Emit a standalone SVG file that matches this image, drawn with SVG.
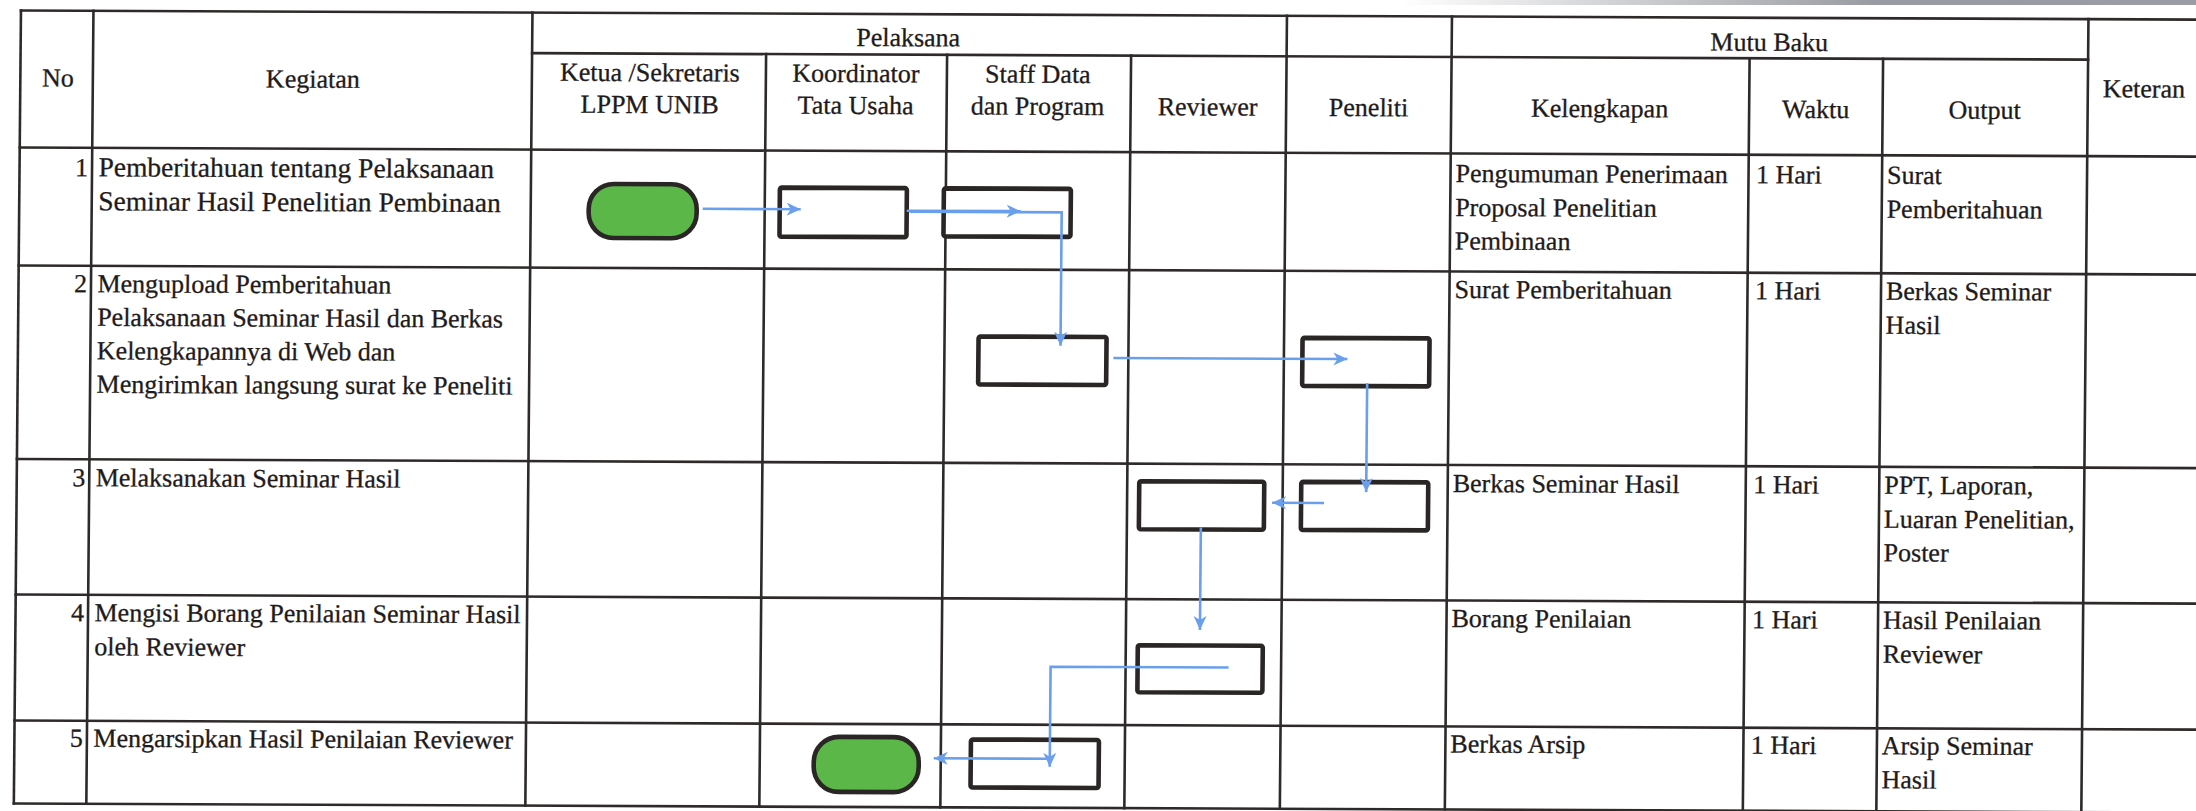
<svg xmlns="http://www.w3.org/2000/svg" width="2196" height="811" viewBox="0 0 2196 811">
  <style>
    .bg { fill: #ffffff; }
    .grid line { stroke: #2e2a2a; stroke-width: 2.6; stroke-linecap: square; }
    .t { font-family: "Liberation Serif", "Times New Roman", serif; font-size: 26px; fill: #1f1b1b; stroke: #1f1b1b; stroke-width: 0.3; }
    .big { font-size: 27.5px; }
    .c { text-anchor: middle; }
    .r { text-anchor: end; }
    .proc { fill: #ffffff; stroke: #2b2626; stroke-width: 4.6; }
    .term { fill: #5bb848; stroke: #2b2626; stroke-width: 4.6; }
    .flow { fill: none; stroke: #6a9fec; stroke-width: 2.6; stroke-linejoin: miter; }
    .flow.head { marker-end: url(#arrow); }
  </style>
  <defs>
    <marker id="arrow" markerUnits="userSpaceOnUse" markerWidth="16" markerHeight="16" refX="14" refY="7" orient="auto">
      <path d="M0,0.5 L14,7 L0,13.5 L4,7 Z" fill="#6a9fec"/>
    </marker>
    <linearGradient id="edgeShade" x1="0" y1="0" x2="1" y2="0">
      <stop offset="0" stop-color="#8d9097" stop-opacity="0"/>
      <stop offset="0.6" stop-color="#8d9097" stop-opacity="0.9"/>
      <stop offset="1" stop-color="#9a9da3" stop-opacity="1"/>
    </linearGradient>
  </defs>

  <rect class="bg" x="0" y="0" width="2196" height="811"/>
  <!-- page edge shading along the top right -->
  <rect x="1400" y="0" width="796" height="5" fill="url(#edgeShade)"/>

  <!-- the sheet is slightly skewed as printed -->
  <g id="sheet" transform="matrix(1 0.0042 -0.009 1 3.6 -4.62)">

    <g id="grid" class="grid">
      <!-- horizontal rules -->
      <line x1="17.5" y1="15" x2="2240" y2="15"/>
      <line x1="529" y1="55.5" x2="2085" y2="55.5"/>
      <line x1="17.5" y1="152" x2="2240" y2="152"/>
      <line x1="17.5" y1="270" x2="2240" y2="270"/>
      <line x1="17.5" y1="463.5" x2="2240" y2="463.5"/>
      <line x1="17.5" y1="599" x2="2240" y2="599"/>
      <line x1="17.5" y1="725" x2="2240" y2="725"/>
      <line x1="17.5" y1="808" x2="2240" y2="808"/>
      <!-- vertical rules -->
      <line x1="17.5" y1="15" x2="17.5" y2="808"/>
      <line x1="90" y1="15" x2="90" y2="808"/>
      <line x1="529" y1="15" x2="529" y2="808"/>
      <line x1="763" y1="55.5" x2="763" y2="808"/>
      <line x1="944" y1="55.5" x2="944" y2="808"/>
      <line x1="1128" y1="55.5" x2="1128" y2="808"/>
      <line x1="1283.5" y1="15" x2="1283.5" y2="808"/>
      <line x1="1448.5" y1="15" x2="1448.5" y2="808"/>
      <line x1="1746.5" y1="55.5" x2="1746.5" y2="808"/>
      <line x1="1880" y1="55.5" x2="1880" y2="808"/>
      <line x1="2085" y1="15" x2="2085" y2="808"/>
    </g>

    <g id="header" class="t">
      <text class="c" x="55" y="91">No</text>
      <text class="c" x="310" y="91">Kegiatan</text>
      <text class="c" x="905" y="47">Pelaksana</text>
      <text class="c" x="647" y="83">Ketua /Sekretaris</text>
      <text class="c" x="647" y="115">LPPM UNIB</text>
      <text class="c" x="853" y="83">Koordinator</text>
      <text class="c" x="853" y="115">Tata Usaha</text>
      <text class="c" x="1035" y="83">Staff Data</text>
      <text class="c" x="1035" y="115">dan Program</text>
      <text class="c" x="1205" y="115">Reviewer</text>
      <text class="c" x="1366" y="115">Peneliti</text>
      <text class="c" x="1766" y="48">Mutu Baku</text>
      <text class="c" x="1597" y="115">Kelengkapan</text>
      <text class="c" x="1813" y="115">Waktu</text>
      <text class="c" x="1982" y="115">Output</text>
      <text x="2100" y="93">Keteran</text>
    </g>

    <g id="row-1" class="t">
      <text class="r" x="86" y="180.5">1</text>
      <text class="big" x="96.5" y="180.5">Pemberitahuan tentang Pelaksanaan</text>
      <text class="big" x="96.5" y="214.5">Seminar Hasil Penelitian Pembinaan</text>
      <text x="1453.5" y="180.5">Pengumuman Penerimaan</text>
      <text x="1453.5" y="214.5">Proposal Penelitian</text>
      <text x="1453.5" y="248">Pembinaan</text>
      <text x="1754" y="180.5">1 Hari</text>
      <text x="1885" y="180.5">Surat</text>
      <text x="1885" y="214.5">Pemberitahuan</text>
    </g>

    <g id="row-2" class="t">
      <text class="r" x="86" y="296.5">2</text>
      <text x="96.5" y="296.5">Mengupload Pemberitahuan</text>
      <text x="96.5" y="330">Pelaksanaan Seminar Hasil dan Berkas</text>
      <text x="96.5" y="363.5">Kelengkapannya di Web dan</text>
      <text x="96.5" y="397">Mengirimkan langsung surat ke Peneliti</text>
      <text x="1453.5" y="296.5">Surat Pemberitahuan</text>
      <text x="1754" y="296.5">1 Hari</text>
      <text x="1885" y="296.5">Berkas Seminar</text>
      <text x="1885" y="330.5">Hasil</text>
    </g>

    <g id="row-3" class="t">
      <text class="r" x="86" y="490.5">3</text>
      <text x="96.5" y="490.5">Melaksanakan Seminar Hasil</text>
      <text x="1453.5" y="490.5">Berkas Seminar Hasil</text>
      <text x="1754" y="490.5">1 Hari</text>
      <text x="1885" y="490.5">PPT, Laporan,</text>
      <text x="1885" y="524.5">Luaran Penelitian,</text>
      <text x="1885" y="558">Poster</text>
    </g>

    <g id="row-4" class="t">
      <text class="r" x="86" y="625.5">4</text>
      <text x="96.5" y="625.5">Mengisi Borang Penilaian Seminar Hasil</text>
      <text x="96.5" y="659.5">oleh Reviewer</text>
      <text x="1453.5" y="625.5">Borang Penilaian</text>
      <text x="1754" y="625.5">1 Hari</text>
      <text x="1885" y="625.5">Hasil Penilaian</text>
      <text x="1885" y="659.5">Reviewer</text>
    </g>

    <g id="row-5" class="t">
      <text class="r" x="86" y="751">5</text>
      <text x="96.5" y="751">Mengarsipkan Hasil Penilaian Reviewer</text>
      <text x="1453.5" y="751">Berkas Arsip</text>
      <text x="1754" y="751">1 Hari</text>
      <text x="1885" y="751">Arsip Seminar</text>
      <text x="1885" y="785">Hasil</text>
    </g>

    <!-- flow symbols -->
    <g id="start"><rect class="term" x="587" y="186" width="108" height="54" rx="25" ry="25"/></g>
    <g id="koordinator-1"><rect class="proc" x="778" y="189" width="127" height="49" rx="2"/></g>
    <g id="staff-1"><rect class="proc" x="942" y="189" width="127" height="48" rx="2"/></g>
    <g id="staff-2"><rect class="proc" x="978" y="337" width="128" height="48" rx="2"/></g>
    <g id="peneliti-2"><rect class="proc" x="1302" y="337" width="127" height="48" rx="2"/></g>
    <g id="peneliti-3"><rect class="proc" x="1302" y="481" width="127" height="48" rx="2"/></g>
    <g id="reviewer-3"><rect class="proc" x="1140" y="481" width="125" height="48" rx="2"/></g>
    <g id="reviewer-4"><rect class="proc" x="1140" y="645" width="125" height="47" rx="2"/></g>
    <g id="staff-5"><rect class="proc" x="974" y="740" width="128" height="48" rx="2"/></g>
    <g id="end"><rect class="term" x="817" y="738" width="105" height="55" rx="25" ry="25"/></g>

    <g id="connectors">
      <path class="flow head" d="M701,210.5 H799"/>
      <path class="flow head" d="M905,211.5 H1019"/>
      <path class="flow head" d="M908,212.5 H1060 V346"/>
      <path class="flow head" d="M1113,358 H1347"/>
      <path class="flow head" d="M1367,382 V491"/>
      <path class="flow head" d="M1325,502 H1273"/>
      <path class="flow head" d="M1202,527 V629.5"/>
      <path class="flow head" d="M1231,667 H1053 V767"/>
      <path class="flow head" d="M1050,759 H937"/>
    </g>
  </g>
</svg>
